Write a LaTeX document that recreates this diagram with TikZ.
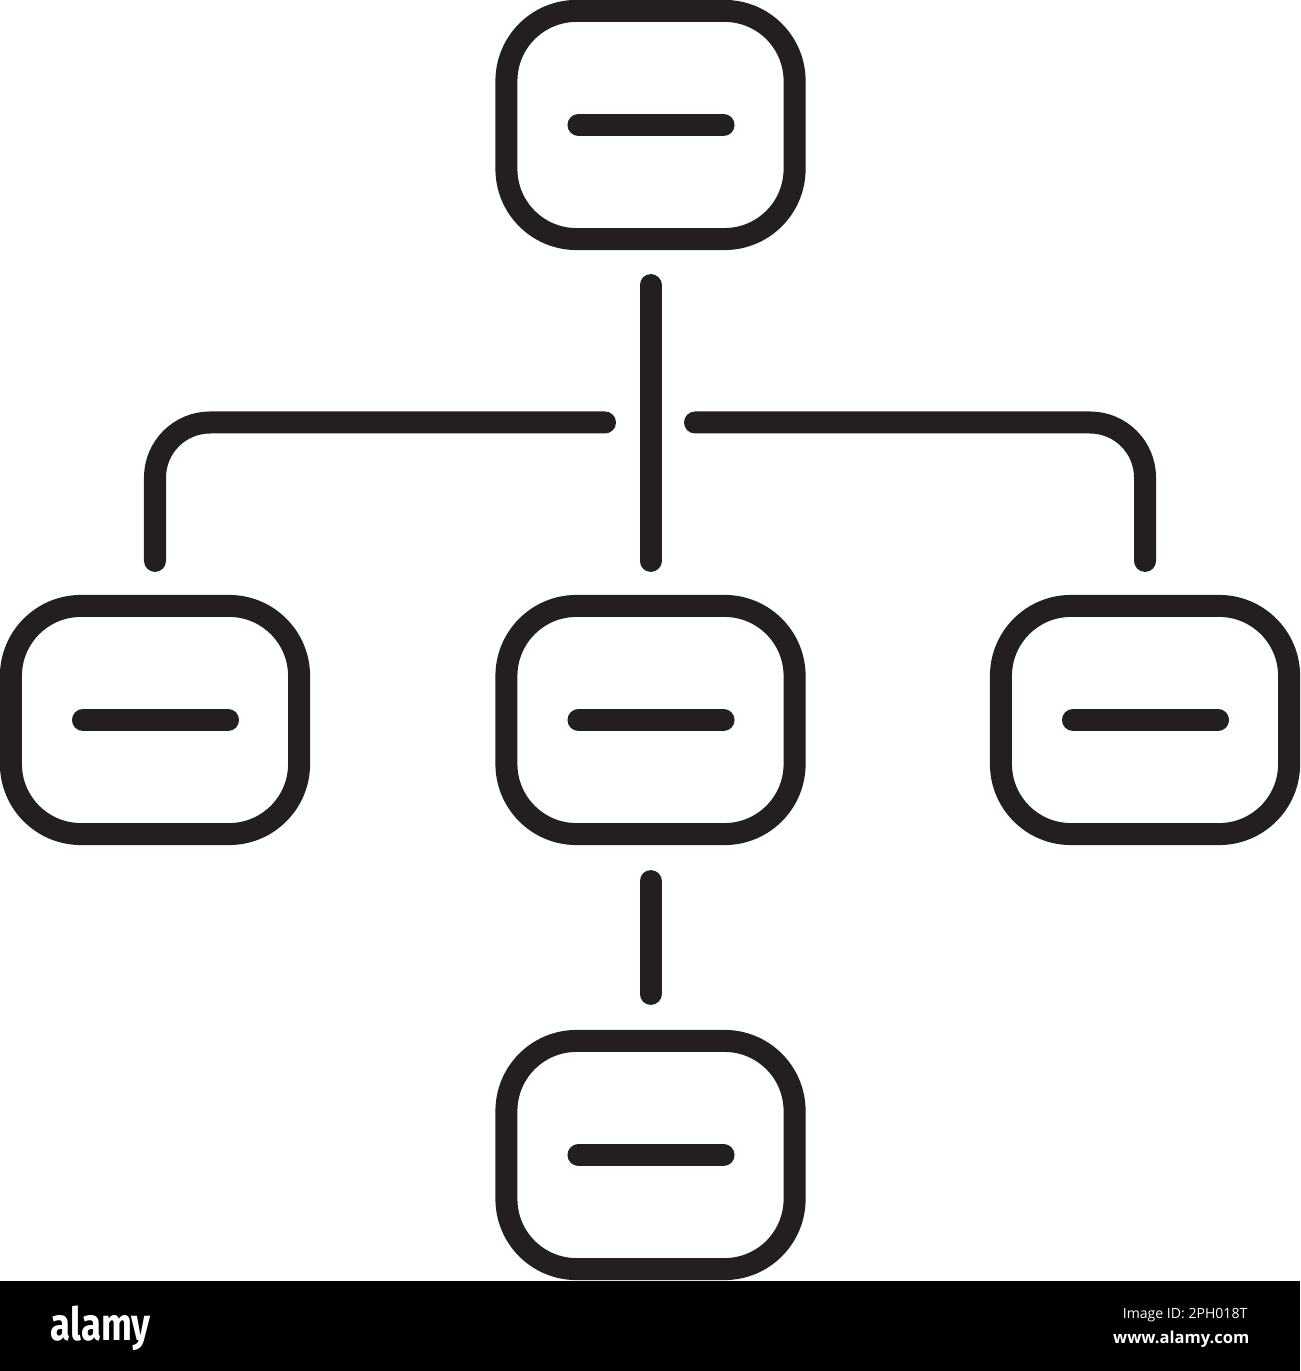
\documentclass[tikz,border=0pt]{standalone}
\usepackage{fontspec}
\newfontfamily\logofont{Fira Sans}
\newfontfamily\idfont{Open Sans}
\definecolor{ink}{HTML}{231F20}
\tikzset{
  orgbox/.style={draw=ink, line width=0.22cm, rounded corners=0.7cm, minimum width=2.88cm, minimum height=2.28cm, inner sep=0pt, fill=white},
  conn/.style={draw=ink, line width=0.22cm, line cap=round},
  barline/.style={draw=ink, line width=0.22cm, line cap=round},
}
\begin{document}
\begin{tikzpicture}[x=0.01cm, y=-0.01cm]
\useasboundingbox (0,0) rectangle (1300,1371);
\fill[white] (0,0) rectangle (1300,1371);
\fill[black] (0,1281) rectangle (1300,1371);

\node[orgbox] (top) at (650.5,125) {};
\node[orgbox] (left) at (155,720) {};
\node[orgbox] (mid) at (650.5,720) {};
\node[orgbox] (right) at (1145,720) {};
\node[orgbox] (bot) at (650.5,1155) {};

\foreach \n in {top,left,mid,right,bot}{
  \draw[barline] ([xshift=-0.72cm]\n.center) -- ([xshift=0.73cm]\n.center);
}

\coordinate (jl) at (605,422.5);
\coordinate (jr) at (695,422.5);

\draw[conn, shorten <=0.35cm, shorten >=0.34cm] (top.south) -- (mid.north);
\draw[conn, shorten <=0.36cm, shorten >=0.36cm] (mid.south) -- (bot.north);
\draw[conn, rounded corners=0.55cm, shorten >=0.34cm] (jl) -| (left.north);
\draw[conn, rounded corners=0.55cm, shorten >=0.34cm] (jr) -| (right.north);

\node[anchor=base west, inner sep=0pt, text=white, font=\logofont\bfseries\fontsize{13}{13}\selectfont] (logo) at (50,1340) {\scalebox{0.8}[1]{alamy}};
\node[anchor=base east, inner sep=0pt, text=white, font=\idfont\fontsize{4}{4}\selectfont] (imgid) at (1248,1318) {Image ID: 2PH018T};
\node[anchor=base east, inner sep=0pt, text=white, font=\idfont\bfseries\fontsize{4.7}{4.7}\selectfont] (url) at (1250,1343) {www.alamy.com};
\end{tikzpicture}
\end{document}
